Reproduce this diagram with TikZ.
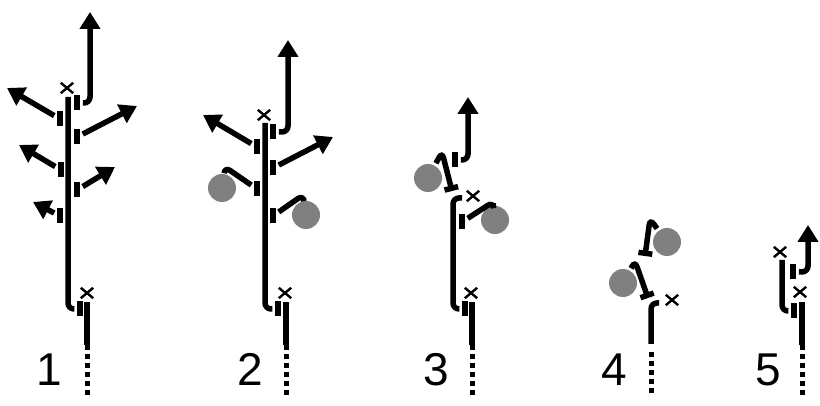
\documentclass[tikz,border=0pt]{standalone}
\usepackage{fontspec}
\setmainfont{Liberation Sans}
\usetikzlibrary{arrows.meta,shapes.misc}
\definecolor{ballgray}{RGB}{128,128,128}
\tikzset{
  bar/.style={fill,inner sep=0pt,minimum width=6pt,minimum height=15pt},
  ball/.style={circle,fill=ballgray,inner sep=0pt,minimum size=28pt},
  cut/.style={cross out,draw,inner sep=0pt,minimum width=10pt,minimum height=8pt,line width=2.4pt},
  num/.style={anchor=base,font=\fontsize{46}{46}\selectfont},
  shoot/.style={line width=5.5pt,-{Triangle[width=20pt,length=17pt]}},
  endbar/.style={-{Bar[width=14pt]}},
  hook/.style={line width=5.5pt,rounded corners=6pt},
  stem/.style={line width=5.5pt},
  dots/.style={dash pattern=on 4.5pt off 4.5pt,line width=5pt}
}

\begin{document}
\begin{tikzpicture}[x=1pt,y=-1pt,line width=5.5pt]
  \useasboundingbox (0,0) rectangle (820,406);
  % 1
  \coordinate (m1) at (68,97);
  \node[cut] (x1a) at (67,88) {};
  \node[bar] (a1) at (77,103) {};
  \coordinate (t1) at (90,12);
  \node[bar] (l1a) at (60,119) {};
  \coordinate (tl1a) at (7,88);
  \node[bar] (r1a) at (77,137) {};
  \coordinate (tr1a) at (137,106);
  \node[bar] (l1b) at (61,170) {};
  \coordinate (tl1b) at (19,145);
  \node[bar] (r1b) at (77,190) {};
  \coordinate (tr1b) at (115,167);
  \node[bar] (l1c) at (60,216) {};
  \coordinate (tl1c) at (33,202);
  \node[bar] (e1) at (80,309) {};
  \node[cut] (x1b) at (87,293) {};
  \coordinate (s1) at (87,302);
  \coordinate (s1m) at (87,345);
  \coordinate (s1e) at (87,397);
  \node[num] (n1) at (49,385) {1};
  \draw[hook] (m1) |- (e1);
  \draw[hook,shoot] (a1) -| (t1);
  \draw[shoot] (l1a) -- (tl1a);
  \draw[shoot] (r1a) -- (tr1a);
  \draw[shoot] (l1b) -- (tl1b);
  \draw[shoot] (r1b) -- (tr1b);
  \draw[shoot] (l1c) -- (tl1c);
  \draw[stem] (s1) -- (s1m);
  \draw[dots] (s1m) -- (s1e);
  % 2
  \coordinate (m2) at (265,123);
  \node[cut] (x2a) at (264,115) {};
  \node[bar] (a2) at (273,132) {};
  \coordinate (t2) at (288,40);
  \node[bar] (l2a) at (257,147) {};
  \coordinate (tl2a) at (203,115);
  \node[bar] (r2a) at (273,168) {};
  \coordinate (tr2a) at (333,137);
  \node[bar] (l2b) at (257,189) {};
  \coordinate (k2a) at (225,167);
  \node[ball] (g2a) at (222,188) {};
  \node[bar] (r2b) at (273,216) {};
  \coordinate (k2b) at (303,195);
  \node[ball] (g2b) at (306,215) {};
  \node[bar] (e2) at (278,309) {};
  \node[cut] (x2b) at (285,293) {};
  \coordinate (s2) at (286,302);
  \coordinate (s2m) at (286,345);
  \coordinate (s2e) at (286,397);
  \node[num] (n2) at (250,385) {2};
  \draw[hook] (m2) |- (e2);
  \draw[hook,shoot] (a2) -| (t2);
  \draw[shoot] (l2a) -- (tl2a);
  \draw[shoot] (r2a) -- (tr2a);
  \draw[hook] (l2b) -- (k2a) -- (g2a);
  \draw[hook] (r2b) -- (k2b) -- (g2b);
  \draw[stem] (s2) -- (s2m);
  \draw[dots] (s2m) -- (s2e);
  % 3
  \node[bar] (a3) at (455,160) {};
  \coordinate (t3) at (468,97);
  \node[ball] (g3a) at (428,178) {};
  \coordinate (k3a) at (442,152);
  \coordinate (e3a) at (452,191);
  \coordinate (m3) at (462,198);
  \coordinate (m3k) at (453,250);
  \node[cut] (x3a) at (473,196) {};
  \node[bar] (r3a) at (462,222) {};
  \coordinate (k3b) at (493,202);
  \node[ball] (g3b) at (495,220) {};
  \node[bar] (e3) at (465,309) {};
  \node[cut] (x3b) at (471,293) {};
  \coordinate (s3) at (472,302);
  \coordinate (s3m) at (472,345);
  \coordinate (s3e) at (472,397);
  \node[num] (n3) at (436,385) {3};
  \draw[hook,shoot] (a3) -| (t3);
  \draw[hook,endbar] (g3a) -- (k3a) -- (e3a);
  \draw[hook] (m3) -| (m3k) |- (e3);
  \draw[hook] (r3a) -- (k3b) -- (g3b);
  \draw[stem] (s3) -- (s3m);
  \draw[dots] (s3m) -- (s3e);
  % 4
  \node[ball] (g4a) at (667,242) {};
  \coordinate (k4a) at (650,219);
  \coordinate (e4a) at (645,256);
  \node[ball] (g4b) at (623,283) {};
  \coordinate (k4b) at (635,261);
  \coordinate (e4b) at (648,298);
  \coordinate (m4) at (659,303);
  \coordinate (s4m) at (651,344);
  \coordinate (s4d) at (651,352);
  \coordinate (s4e) at (651,397);
  \node[cut] (x4) at (672,300) {};
  \node[num] (n4) at (614,385) {4};
  \draw[hook,endbar] (g4a) -- (k4a) -- (e4a);
  \draw[hook,endbar] (g4b) -- (k4b) -- (e4b);
  \draw[hook] (m4) -| (s4m);
  \draw[dots] (s4d) -- (s4e);
  % 5
  \node[cut] (x5a) at (780,252) {};
  \coordinate (m5) at (782,260);
  \node[bar] (e5) at (794,311) {};
  \node[bar] (a5) at (793,272) {};
  \coordinate (t5) at (808,225);
  \node[cut] (x5b) at (800,292) {};
  \coordinate (s5) at (802,302);
  \coordinate (s5m) at (802,345);
  \coordinate (s5e) at (802,397);
  \node[num] (n5) at (768,385) {5};
  \draw[hook] (m5) |- (e5);
  \draw[hook,shoot] (a5) -| (t5);
  \draw[stem] (s5) -- (s5m);
  \draw[dots] (s5m) -- (s5e);
\end{tikzpicture}
\end{document}
